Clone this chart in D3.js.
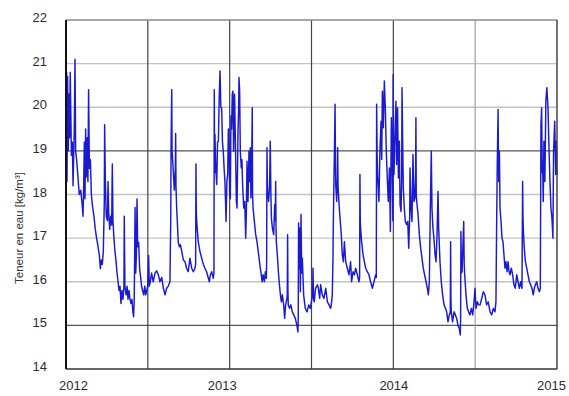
<!DOCTYPE html>
<html><head><meta charset="utf-8">
<script src="https://cdn.jsdelivr.net/npm/d3@7"></script>
<style>body{margin:0;background:#fff}svg{display:block}text{font-family:"Liberation Sans",Arial,sans-serif}</style>
</head><body><svg id="c" width="569" height="396"></svg>
<script>
const yTicks=[14,15,16,17,18,19,20,21,22];
const yDarkGrid=[15,19];
const xTicks=[2012,2013,2014,2015];
const xGrid=[2012.5,2013,2013.5,2014,2014.5];
const xLightGrid=[2014.5];
const yLabel="Teneur en eau [kg/m³]";
// [years after 2012, water content kg/m³]
const s2012=[[0.000,18.0],[0.004,20.8],[0.006,18.3],[0.010,20.7],[0.014,19.0],[0.018,20.3],[0.022,19.3],[0.026,20.8],[0.033,18.9],[0.039,19.2],[0.043,18.2],[0.047,18.9],[0.051,19.6],[0.055,21.1],[0.059,19.0],[0.065,18.8],[0.073,18.4],[0.081,18.0],[0.090,18.1],[0.098,17.8],[0.104,17.5],[0.108,18.2],[0.112,19.2],[0.116,17.9],[0.120,19.5],[0.124,18.4],[0.130,19.3],[0.134,18.3],[0.138,20.4],[0.143,18.6],[0.149,18.8],[0.155,18.0],[0.163,17.7],[0.171,17.5],[0.179,17.2],[0.187,17.0],[0.196,16.8],[0.204,16.6],[0.210,16.3],[0.216,16.5],[0.222,16.4],[0.228,16.7],[0.234,17.8],[0.236,19.6],[0.240,18.4],[0.246,17.5],[0.253,17.4],[0.257,18.3],[0.261,17.6],[0.267,17.2],[0.273,17.5],[0.279,17.3],[0.283,18.7],[0.287,17.4],[0.293,17.0],[0.299,16.7],[0.305,16.5],[0.312,16.2],[0.318,16.0],[0.324,15.8],[0.330,15.9],[0.336,15.5],[0.342,15.8],[0.348,15.6],[0.354,15.9],[0.356,17.5],[0.360,15.9],[0.367,15.7],[0.373,15.9],[0.379,15.6],[0.385,15.8],[0.391,15.6],[0.397,15.5],[0.403,15.6],[0.409,15.3],[0.413,15.2],[0.417,15.6],[0.422,17.7],[0.426,16.2],[0.430,16.6],[0.434,17.9],[0.438,16.8],[0.444,16.9],[0.450,16.3],[0.456,16.1],[0.462,15.9],[0.468,15.8],[0.475,15.7],[0.481,15.9],[0.487,15.7],[0.493,15.8],[0.499,15.9],[0.505,16.6],[0.509,15.9],[0.515,16.0],[0.523,16.2],[0.533,16.0],[0.544,16.2],[0.554,16.25],[0.564,16.16],[0.574,16.0],[0.585,16.1],[0.595,15.85],[0.605,15.7],[0.615,15.85],[0.625,15.9],[0.635,16.0],[0.640,17.4],[0.642,19.1],[0.646,20.4],[0.648,19.0],[0.650,18.9],[0.656,18.5],[0.662,18.1],[0.668,18.6],[0.670,19.4],[0.672,18.2],[0.676,17.7],[0.680,17.4],[0.686,16.9],[0.693,16.8],[0.699,16.85],[0.707,16.7],[0.717,16.5],[0.727,16.46],[0.737,16.31],[0.747,16.23],[0.757,16.54],[0.768,16.31],[0.778,16.23],[0.788,16.31],[0.792,16.4],[0.794,18.7],[0.796,17.6],[0.800,17.3],[0.808,16.92],[0.818,16.7],[0.829,16.54],[0.839,16.4],[0.849,16.31],[0.859,16.23],[0.870,16.08],[0.876,16.0],[0.882,16.16],[0.890,16.23],[0.900,16.08],[0.904,16.2],[0.906,20.4],[0.908,18.5],[0.910,19.38],[0.915,18.6],[0.921,18.23],[0.926,19.2],[0.931,19.22],[0.936,20.2],[0.941,20.83],[0.946,20.0],[0.951,19.99],[0.956,19.2],[0.961,18.99],[0.966,18.6],[0.971,18.30],[0.975,17.8],[0.978,17.38],[0.983,18.3],[0.988,18.46],[0.992,19.5],[0.996,19.22]];
const s2013=[[1.000,18.0],[1.004,17.9],[1.008,19.8],[1.012,19.5],[1.016,20.3],[1.020,20.37],[1.024,18.99],[1.027,19.6],[1.030,20.30],[1.035,19.22],[1.041,17.84],[1.045,17.69],[1.051,19.45],[1.055,20.0],[1.057,20.68],[1.061,20.37],[1.065,18.99],[1.071,18.61],[1.075,18.8],[1.079,18.23],[1.086,17.69],[1.092,17.84],[1.098,17.0],[1.102,17.6],[1.106,18.76],[1.112,17.84],[1.118,18.99],[1.122,18.3],[1.126,19.07],[1.130,17.92],[1.134,18.5],[1.138,19.99],[1.140,18.0],[1.143,17.69],[1.151,17.38],[1.159,17.08],[1.167,16.92],[1.177,16.62],[1.187,16.31],[1.192,16.2],[1.198,16.0],[1.204,16.16],[1.212,16.0],[1.218,16.23],[1.224,16.08],[1.226,16.5],[1.228,19.07],[1.230,18.4],[1.232,18.07],[1.238,17.84],[1.244,18.2],[1.248,19.22],[1.252,18.0],[1.255,17.46],[1.261,17.23],[1.269,17.08],[1.275,17.77],[1.279,17.4],[1.281,18.3],[1.283,17.3],[1.285,16.92],[1.291,16.62],[1.299,16.16],[1.305,15.9],[1.310,15.70],[1.316,15.54],[1.322,15.70],[1.330,15.47],[1.336,15.16],[1.342,15.47],[1.350,15.62],[1.352,15.7],[1.354,17.08],[1.356,15.8],[1.358,15.47],[1.366,15.39],[1.374,15.47],[1.383,15.31],[1.391,15.24],[1.401,15.16],[1.411,15.0],[1.417,14.85],[1.419,15.2],[1.421,17.35],[1.424,16.3],[1.428,17.23],[1.432,15.77],[1.436,17.54],[1.440,16.2],[1.444,16.54],[1.452,15.70],[1.462,15.39],[1.473,15.31],[1.483,15.47],[1.493,15.39],[1.503,15.62],[1.507,15.7],[1.509,16.31],[1.513,15.6],[1.517,15.54],[1.525,15.85],[1.536,15.93],[1.542,15.85],[1.550,15.62],[1.556,15.93],[1.566,15.70],[1.576,15.62],[1.587,15.85],[1.597,15.54],[1.607,15.47],[1.617,15.39],[1.623,15.54],[1.627,15.70],[1.631,16.5],[1.633,17.23],[1.637,18.30],[1.641,19.2],[1.644,20.07],[1.646,19.0],[1.648,18.23],[1.654,17.84],[1.658,18.4],[1.660,19.07],[1.662,18.2],[1.664,18.07],[1.670,17.69],[1.676,17.38],[1.682,17.08],[1.688,16.62],[1.695,16.46],[1.701,16.92],[1.709,16.46],[1.719,16.31],[1.729,16.16],[1.739,16.46],[1.745,16.0],[1.754,16.23],[1.762,16.16],[1.770,16.31],[1.780,16.16],[1.790,16.0],[1.794,16.1],[1.796,18.46],[1.798,17.4],[1.800,17.23],[1.806,16.92],[1.815,16.62],[1.823,16.46],[1.831,16.31],[1.841,16.23],[1.851,16.16],[1.861,16.0],[1.872,15.85],[1.882,16.0],[1.892,16.16],[1.896,16.1],[1.898,20.07],[1.901,18.9],[1.904,18.46],[1.912,17.84],[1.918,18.99],[1.925,19.68],[1.929,18.8],[1.933,20.37],[1.939,19.53],[1.945,20.60],[1.951,19.99],[1.957,18.99],[1.963,18.38],[1.969,17.84],[1.976,18.61],[1.982,17.15],[1.988,19.76],[1.994,18.61]];
const s2014=[[1.997,17.4],[1.999,20.75],[2.001,18.6],[2.004,18.46],[2.010,19.38],[2.016,20.14],[2.020,18.69],[2.026,19.99],[2.031,18.38],[2.037,19.22],[2.041,17.77],[2.047,17.61],[2.051,18.4],[2.053,20.45],[2.057,19.22],[2.061,18.15],[2.067,17.69],[2.073,17.38],[2.081,17.31],[2.088,17.38],[2.094,16.77],[2.100,17.5],[2.102,18.61],[2.108,17.69],[2.114,17.38],[2.120,18.92],[2.126,17.84],[2.132,17.92],[2.136,18.5],[2.138,19.76],[2.140,18.0],[2.143,17.84],[2.151,17.54],[2.159,17.08],[2.167,16.77],[2.175,16.54],[2.183,16.31],[2.191,16.16],[2.200,16.0],[2.208,15.85],[2.214,15.70],[2.220,16.0],[2.226,17.69],[2.232,18.99],[2.236,17.69],[2.242,17.23],[2.248,17.0],[2.255,16.62],[2.261,16.46],[2.267,17.08],[2.273,18.07],[2.277,17.23],[2.285,16.46],[2.293,16.0],[2.301,15.70],[2.310,15.47],[2.318,15.39],[2.326,15.31],[2.334,15.08],[2.342,15.24],[2.348,15.3],[2.350,16.92],[2.352,15.6],[2.354,15.31],[2.362,15.08],[2.371,15.31],[2.379,15.24],[2.387,15.16],[2.395,15.0],[2.403,14.93],[2.409,14.78],[2.411,15.1],[2.413,17.15],[2.416,16.2],[2.420,16.23],[2.426,16.92],[2.430,17.38],[2.433,16.4],[2.436,16.16],[2.444,15.70],[2.452,15.39],[2.460,15.31],[2.468,15.24],[2.477,15.39],[2.485,15.24],[2.493,15.54],[2.499,15.85],[2.505,15.39],[2.513,15.54],[2.521,15.47],[2.530,15.47],[2.540,15.62],[2.550,15.77],[2.560,15.70],[2.570,15.47],[2.580,15.54],[2.591,15.31],[2.601,15.24],[2.611,15.39],[2.621,15.31],[2.627,15.54],[2.631,17.23],[2.635,18.69],[2.640,19.95],[2.642,18.9],[2.644,18.30],[2.648,18.99],[2.652,17.69],[2.658,17.38],[2.664,17.0],[2.670,16.92],[2.676,16.62],[2.682,16.31],[2.688,16.46],[2.695,16.23],[2.701,16.46],[2.707,16.23],[2.713,16.16],[2.721,16.31],[2.729,16.16],[2.737,15.93],[2.745,15.85],[2.754,16.16],[2.762,16.0],[2.770,15.85],[2.778,16.0],[2.786,15.85],[2.790,18.30],[2.792,17.5],[2.794,17.23],[2.800,16.77],[2.807,16.46],[2.815,16.31],[2.823,16.16],[2.831,16.0],[2.839,15.93],[2.847,15.85],[2.855,15.70],[2.861,15.85],[2.868,15.93],[2.876,16.0],[2.884,15.85],[2.892,15.77],[2.898,15.85],[2.902,19.6],[2.906,19.99],[2.910,18.5],[2.912,18.76],[2.916,17.84],[2.920,19.22],[2.926,18.30],[2.932,20.14],[2.938,20.45],[2.945,19.99],[2.951,19.07],[2.957,18.30],[2.963,17.69],[2.969,17.46],[2.975,17.0],[2.979,18.99],[2.986,19.68],[2.992,18.46],[2.996,19.22],[3.000,18.46]];
const baseYear=2012;

const svg=d3.select("#c");
svg.append("rect").attr("width",569).attr("height",396).attr("fill","#fff");
const x=d3.scaleLinear().domain([2012,2015]).range([66,557]);
const y=d3.scaleLinear().domain([14,22]).range([369,20]);

// horizontal grid
svg.append("g").selectAll("line").data(yTicks.filter(d=>d>14&&d<22)).join("line")
  .attr("x1",x(2012)).attr("x2",x(2015)).attr("y1",d=>y(d)).attr("y2",d=>y(d))
  .attr("stroke",d=>yDarkGrid.includes(d)?"#555":"#c4c4c4").attr("stroke-width",1.3);
// vertical grid
svg.append("g").selectAll("line").data(xGrid).join("line")
  .attr("x1",d=>x(d)).attr("x2",d=>x(d)).attr("y1",y(22)).attr("y2",y(14))
  .attr("stroke",d=>xLightGrid.includes(d)?"#a0a0a0":"#444").attr("stroke-width",1.2);

// data line
const data=[...s2012,...s2013,...s2014].map(d=>({t:baseYear+d[0],v:d[1]}));
svg.append("path").datum(data)
  .attr("fill","none").attr("stroke","#1a1ad0").attr("stroke-width",1.45).attr("stroke-linejoin","round")
  .attr("d",d3.line().x(d=>x(d.t)).y(d=>y(d.v)));

// frame
svg.append("line").attr("x1",x(2012)).attr("x2",x(2015)).attr("y1",y(22)).attr("y2",y(22)).attr("stroke","#888").attr("stroke-width",1.3);
svg.append("line").attr("x1",x(2012)).attr("x2",x(2015)).attr("y1",y(14)).attr("y2",y(14)).attr("stroke","#333").attr("stroke-width",1.5);
svg.append("line").attr("x1",x(2012)).attr("x2",x(2012)).attr("y1",y(22)).attr("y2",y(14)).attr("stroke","#111").attr("stroke-width",2);
svg.append("line").attr("x1",x(2015)).attr("x2",x(2015)).attr("y1",y(22)).attr("y2",y(14)).attr("stroke","#444").attr("stroke-width",1.5);

// y axis labels
const ya=svg.append("g").attr("transform","translate(47,0)")
  .call(d3.axisLeft(y).tickValues(yTicks).tickSize(0).tickPadding(0).tickFormat(d3.format("d")));
ya.select(".domain").remove();
ya.selectAll("text").attr("font-size",13).attr("fill","#2b2b38").attr("dy","0.12em").style("font-family","'Liberation Sans',Arial,sans-serif");

// x axis labels
const xOff={2012:7,2013:-8,2014:0,2015:-6};
const xa=svg.append("g").attr("transform",`translate(0,${y(14)})`)
  .call(d3.axisBottom(x).tickValues(xTicks).tickSize(0).tickPadding(12).tickFormat(d3.format("d")));
xa.select(".domain").remove();
xa.selectAll("text").attr("font-size",13).attr("fill","#2b2b38").attr("dx",d=>xOff[d]).style("font-family","'Liberation Sans',Arial,sans-serif");

// y title
svg.append("text").attr("transform","translate(23,228) rotate(-90)")
  .attr("text-anchor","middle").attr("font-size",11.5).attr("fill","#333").text(yLabel);
</script></body></html>
